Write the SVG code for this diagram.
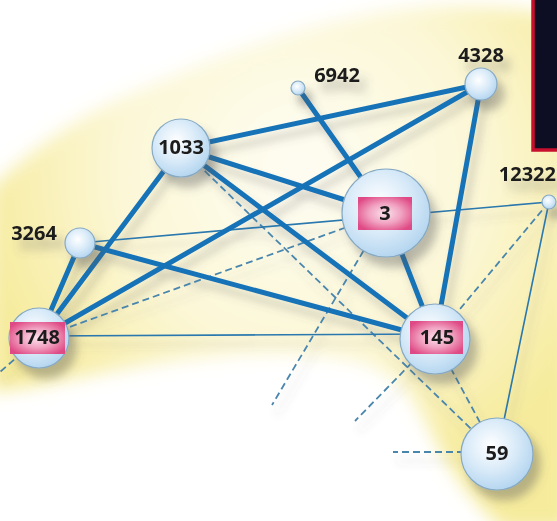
<svg xmlns="http://www.w3.org/2000/svg" width="557" height="521" viewBox="0 0 557 521">
  <defs>
    <radialGradient id="blobFill" gradientUnits="userSpaceOnUse" cx="300" cy="170" r="330">
      <stop offset="0" stop-color="#fefdf3"/>
      <stop offset="0.55" stop-color="#fcf7d6"/>
      <stop offset="1" stop-color="#f6eb9c"/>
    </radialGradient>
    <radialGradient id="ball" cx="0.42" cy="0.38" r="0.65">
      <stop offset="0" stop-color="#ffffff"/>
      <stop offset="0.55" stop-color="#d8eaf8"/>
      <stop offset="1" stop-color="#b2d4ef"/>
    </radialGradient>
    <radialGradient id="tag" cx="0.5" cy="0.5" r="0.6">
      <stop offset="0" stop-color="#fbe2ec"/>
      <stop offset="0.5" stop-color="#f1a3c2"/>
      <stop offset="1" stop-color="#df4a85"/>
    </radialGradient>
    <filter id="soft" x="-20%" y="-20%" width="140%" height="140%">
      <feGaussianBlur stdDeviation="9"/>
    </filter>
    <filter id="edgeShadow" x="-10%" y="-10%" width="130%" height="130%">
      <feDropShadow dx="5" dy="9" stdDeviation="4" flood-color="#5a5a5a" flood-opacity="0.3"/>
    </filter>
    <filter id="nodeShadow" x="-50%" y="-50%" width="220%" height="220%">
      <feDropShadow dx="7" dy="10" stdDeviation="5" flood-color="#5a5a5a" flood-opacity="0.4"/>
    </filter>
  </defs>
  <style>
    .thick { stroke: #1873b7; stroke-width: 5; stroke-linecap: round; fill: none; }
    .thin { stroke: #2a78ae; stroke-width: 1.6; fill: none; }
    .dash { stroke: #4a86ad; stroke-width: 1.8; stroke-dasharray: 7 4; fill: none; }
    .node circle { fill: url(#ball); stroke: #86a9c4; stroke-width: 1.2; }
    .node rect { fill: url(#tag); }
    .lbl { font-family: "Open Sans", "Noto Sans", sans-serif; font-weight: 700; font-size: 20px; fill: #1a1a1a; text-anchor: middle; }
  </style>

  <rect width="557" height="521" fill="#ffffff"/>

  <!-- soft yellow backdrop -->
  <path filter="url(#soft)" fill="url(#blobFill)"
        d="M -10,190 C 30,150 80,115 140,90 C 220,55 300,25 380,12 C 450,2 520,5 570,20 L 570,530 L 505,530 C 475,505 450,470 430,430 C 415,400 400,372 360,362 C 290,348 200,356 140,366 C 80,376 30,388 -10,392 Z"/>

  <!-- connectors -->
  <g id="connectors" filter="url(#edgeShadow)">
    <line class="dash" x1="39" y1="338" x2="386" y2="213"/>
    <line class="dash" x1="181" y1="148" x2="497" y2="454"/>
    <line class="dash" x1="549" y1="202" x2="435" y2="339"/>
    <line class="dash" x1="435" y1="339" x2="497" y2="454"/>
    <line class="dash" x1="386" y1="213" x2="272" y2="405"/>
    <line class="dash" x1="435" y1="339" x2="355" y2="421"/>
    <line class="dash" x1="497" y1="452" x2="393" y2="452"/>
    <line class="dash" x1="39" y1="338" x2="0" y2="372"/>

    <line class="thin" x1="80" y1="243" x2="549" y2="202"/>
    <line class="thin" x1="39" y1="336" x2="435" y2="334"/>
    <line class="thin" x1="549" y1="202" x2="497" y2="454"/>

    <line class="thick" x1="181" y1="148" x2="481" y2="84"/>
    <line class="thick" x1="181" y1="148" x2="386" y2="213"/>
    <line class="thick" x1="181" y1="148" x2="435" y2="339"/>
    <line class="thick" x1="181" y1="148" x2="39" y2="338"/>
    <line class="thick" x1="298" y1="88" x2="386" y2="213"/>
    <line class="thick" x1="481" y1="84" x2="39" y2="338"/>
    <line class="thick" x1="481" y1="84" x2="435" y2="339"/>
    <line class="thick" x1="386" y1="213" x2="435" y2="339"/>
    <line class="thick" x1="80" y1="243" x2="435" y2="339"/>
    <line class="thick" x1="80" y1="243" x2="39" y2="338"/>
  </g>

  <!-- nodes -->
  <g id="n1033" class="node" filter="url(#nodeShadow)">
    <circle cx="181" cy="148" r="29"/>
    <text class="lbl" x="181" y="154">1033</text>
  </g>
  <g id="n6942" class="node" filter="url(#nodeShadow)">
    <circle cx="298" cy="88" r="7"/>
    <text class="lbl" x="337" y="82">6942</text>
  </g>
  <g id="n4328" class="node" filter="url(#nodeShadow)">
    <circle cx="481" cy="84" r="16"/>
    <text class="lbl" x="481" y="62">4328</text>
  </g>
  <g id="n3" class="node" filter="url(#nodeShadow)">
    <circle cx="386" cy="213" r="44"/>
    <rect x="358" y="197" width="54" height="33"/>
    <text class="lbl" x="385" y="220">3</text>
  </g>
  <g id="n12322" class="node" filter="url(#nodeShadow)">
    <circle cx="549" cy="202" r="7"/>
    <text class="lbl" x="556" y="181" style="text-anchor:end">12322</text>
  </g>
  <g id="n3264" class="node" filter="url(#nodeShadow)">
    <circle cx="80" cy="243" r="15"/>
    <text class="lbl" x="34" y="240">3264</text>
  </g>
  <g id="n1748" class="node" filter="url(#nodeShadow)">
    <circle cx="39" cy="338" r="30"/>
    <rect x="10" y="322" width="55" height="32"/>
    <text class="lbl" x="37" y="344">1748</text>
  </g>
  <g id="n145" class="node" filter="url(#nodeShadow)">
    <circle cx="435" cy="339" r="35"/>
    <rect x="410" y="321" width="53" height="33"/>
    <text class="lbl" x="437" y="344">145</text>
  </g>
  <g id="n59" class="node" filter="url(#nodeShadow)">
    <circle cx="497" cy="454" r="36"/>
    <text class="lbl" x="497" y="460">59</text>
  </g>

  <!-- dark panel at top right -->
  <rect x="533" y="-10" width="40" height="160" fill="#0d0e24" stroke="#c8102e" stroke-width="3.5"/>
</svg>
